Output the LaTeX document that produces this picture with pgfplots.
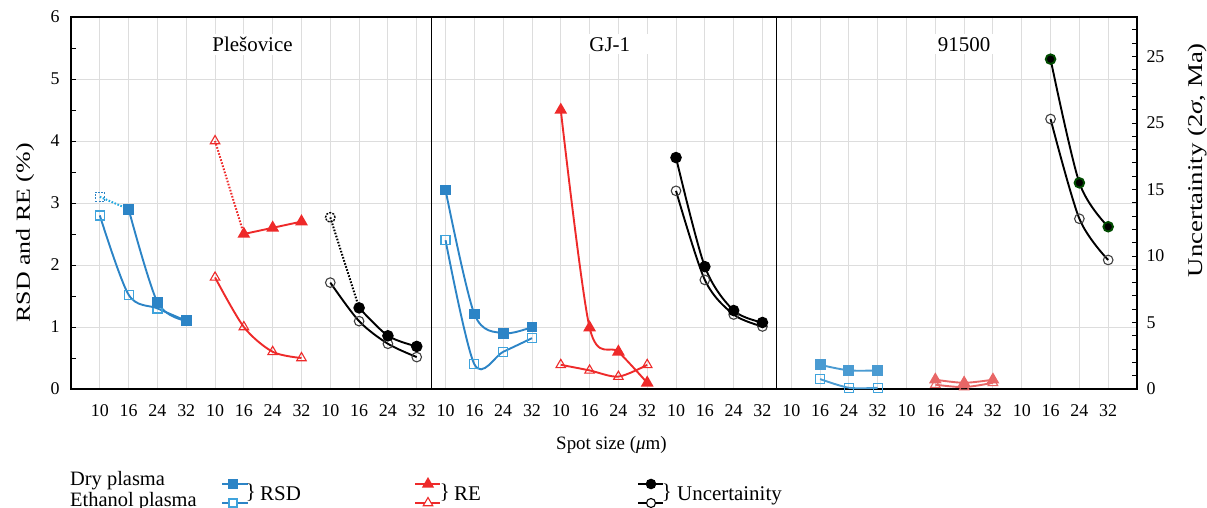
\documentclass[border=0pt]{standalone}
\usepackage{fontspec}
\setmainfont{Liberation Serif}
\usepackage{graphicx}
\usepackage{pgfplots}
\pgfplotsset{compat=1.18}

\definecolor{rsdblue}{HTML}{2C84C6}
\definecolor{rsdopen}{HTML}{3FA3DC}
\definecolor{rsdcyan}{HTML}{22A9E1}
\definecolor{rsdlight}{HTML}{4A9BD2}
\definecolor{rered}{HTML}{EE2A2A}
\definecolor{relight}{HTML}{E86666}
\definecolor{gridgray}{HTML}{DDDDDD}

\newcommand\fs[1]{\rmfamily\fontsize{#1}{#1}\selectfont}

\pgfplotsset{
  curve/.style={line width=1.9bp, smooth, tension=0.5},
  drysq/.style={curve, #1, mark=square*, mark size=4.5bp, mark options={solid, fill=#1, draw=#1}},
  ethsq/.style={curve, #1, mark=square, mark size=4.5bp, mark options={solid, fill=white, draw=rsdopen, line width=1.2bp}},
  drytri/.style={curve, #1, mark=triangle*, mark size=5.5bp, mark options={solid, fill=#1, draw=#1}},
  ethtri/.style={curve, #1, mark=triangle, mark size=5.5bp, mark options={solid, fill=white, draw=#1, line width=1.1bp}},
  drycirc/.style={curve, black, mark=*, mark size=4.8bp, mark options={solid, fill=black, draw=#1}},
  ethcirc/.style={curve, black, mark=o, mark size=4.8bp, mark options={solid, fill=white, draw=black!75, line width=1.1bp}},
  dots/.style={line width=2bp, dash pattern=on 1.6bp off 1.6bp, #1},
}

\begin{document}
\begin{tikzpicture}
\useasboundingbox (-71bp,-119bp) rectangle (1136bp,389bp);

\begin{axis}[
  at={(0,0)}, anchor=south west,
  scale only axis, width=1066bp, height=372bp,
  xmin=-1, xmax=36, ymin=0, ymax=6,
  xtick={0,...,35},
  xticklabels={10,16,24,32,10,16,24,32,10,16,24,32,10,16,24,32,10,16,24,32,10,16,24,32,10,16,24,32,10,16,24,32,10,16,24,32},
  ytick={0,...,6},
  minor ytick={0.5,1.5,...,5.5},
  xtick pos=bottom, ytick pos=left,
  tick align=inside,
  x tick style={draw=none},
  y tick style={black, line width=0.9bp},
  major tick length=5bp, minor tick length=5bp,
  grid=major,
  major grid style={gridgray, line width=0.9bp},
  axis line style={black, line width=1.1bp},
  ticklabel style={font=\fs{18}},
  /pgf/number format/assume math mode=true,
  xticklabel style={yshift=-12bp},
  yticklabel style={xshift=-8bp},
  xlabel={Spot size (\textit{μ}m)},
  xlabel style={font=\fs{19}, at={(axis description cs:0.507,-0.162)}, anchor=base},
  ylabel={\scalebox{1.3}[1]{RSD and RE (\%)}},
  ylabel style={font=\fs{20}, at={(axis description cs:-0.043,0.42)}, anchor=center, rotate=0},
]
% separators between reference materials
\draw[black, line width=1.2bp] (axis cs:11.5,0) -- (axis cs:11.5,6);
\draw[black, line width=1.2bp] (axis cs:23.5,0) -- (axis cs:23.5,6);

% ---- Plesovice
\addplot[ethsq=rsdblue] coordinates {(0,2.8)(1,1.52)(2,1.3)(3,1.1)};
\addplot[dots=rsdcyan] coordinates {(0,3.1)(1,2.9)};
\addplot[only marks, mark=square, mark size=4.5bp, mark options={draw=rsdblue, fill=white, line width=1.3bp, dash pattern=on 2bp off 1.2bp}] coordinates {(0,3.1)};
\addplot[drysq=rsdblue] coordinates {(1,2.9)(2,1.4)(3,1.1)};

\addplot[ethtri=rered] coordinates {(4,1.8)(5,1.0)(6,0.6)(7,0.5)};
\addplot[dots=rered] coordinates {(4,4.0)(5,2.5)};
\addplot[only marks, mark=triangle, mark size=5.5bp, mark options={draw=rered, fill=white, line width=1.1bp}] coordinates {(4,4.0)};
\addplot[drytri=rered] coordinates {(5,2.5)(6,2.6)(7,2.7)};

% ---- GJ-1
\addplot[ethsq=rsdblue] coordinates {(12,2.4)(13,0.4)(14,0.6)(15,0.82)};
\addplot[drysq=rsdblue] coordinates {(12,3.21)(13,1.21)(14,0.9)(15,1.0)};
\addplot[ethtri=rered] coordinates {(16,0.39)(17,0.3)(18,0.2)(19,0.39)};
\addplot[drytri=rered] coordinates {(16,4.5)(17,0.99)(18,0.6)(19,0.1)};

% ---- 91500
\addplot[ethsq=rsdlight] coordinates {(25,0.16)(26,0.02)(27,0.02)};
\addplot[drysq=rsdlight] coordinates {(25,0.39)(26,0.3)(27,0.3)};
\addplot[ethtri=relight] coordinates {(29,0.07)(30,0.03)(31,0.1)};
\addplot[drytri=relight] coordinates {(29,0.15)(30,0.1)(31,0.15)};

\node[fill=white, inner xsep=7bp, inner ysep=3bp, font=\fs{21}] at (axis cs:5.3,5.56) {Plešovice};
\node[fill=white, inner xsep=24bp, inner ysep=3bp, font=\fs{21}] at (axis cs:17.7,5.56) {GJ-1};
\node[fill=white, inner xsep=18bp, inner ysep=3bp, font=\fs{21}] at (axis cs:30.0,5.56) {91500};
\end{axis}

\begin{axis}[
  at={(0,0)}, anchor=south west,
  scale only axis, width=1066bp, height=372bp,
  xmin=-1, xmax=36, ymin=0, ymax=27.97,
  axis x line=none, axis y line*=right,
  ytick={0,5,10,15,20,25},
  yticklabels={0,5,10,15,25,25},
  minor ytick={1,...,27},
  tick align=inside,
  y tick style={black, line width=0.9bp},
  major tick length=5bp, minor tick length=5bp,
  axis line style={black, line width=1.1bp},
  ticklabel style={font=\fs{18}},
  yticklabel style={xshift=6bp},
  ylabel={\scalebox{1.28}[1]{Uncertainity (2\textit{σ}, Ma)}},
  ylabel style={font=\fs{21}, at={(axis description cs:1.057,0.615)}, anchor=center, rotate=0},
]
% ---- Plesovice
\addplot[ethcirc] coordinates {(8,8.0)(9,5.1)(10,3.4)(11,2.4)};
\addplot[dots=black] coordinates {(8,12.9)(9,6.1)};
\addplot[only marks, mark=o, mark size=4.8bp, mark options={draw=black, fill=white, line width=1.4bp, dash pattern=on 2bp off 1.2bp}] coordinates {(8,12.9)};
\addplot[drycirc=black] coordinates {(9,6.1)(10,4.0)(11,3.2)};
% ---- GJ-1
\addplot[ethcirc] coordinates {(20,14.9)(21,8.2)(22,5.6)(23,4.7)};
\addplot[drycirc=black] coordinates {(20,17.4)(21,9.2)(22,5.9)(23,5.0)};
% ---- 91500
\addplot[ethcirc] coordinates {(33,20.3)(34,12.8)(35,9.7)};
\addplot[drycirc=black!70!green] coordinates {(33,24.8)(34,15.5)(35,12.2)};
\end{axis}

% ---- legend
\node[anchor=base west, font=\fs{20.5}, inner sep=0pt] at (-1bp,-96bp) {Dry plasma};
\node[anchor=base west, font=\fs{20.5}, inner sep=0pt] at (-1bp,-117bp) {Ethanol plasma};

\begin{scope}[line width=1.5bp]
\draw[rsdblue] (151bp,-95bp) -- (177bp,-95bp);
\draw[rsdblue] (151bp,-114bp) -- (177bp,-114bp);
\filldraw[rsdblue] (158bp,-99bp) rectangle (166bp,-91bp);
\filldraw[draw=rsdopen, fill=white, line width=1.1bp] (158bp,-118bp) rectangle (166bp,-110bp);

\draw[rered] (344bp,-95bp) -- (369bp,-95bp);
\draw[rered] (344bp,-114bp) -- (369bp,-114bp);
\filldraw[rered] (357bp,-95bp) +(90:5.5bp) -- +(210:5.5bp) -- +(330:5.5bp) -- cycle;
\filldraw[draw=rered, fill=white, line width=1.1bp] (357bp,-114bp) +(90:5.5bp) -- +(210:5.5bp) -- +(330:5.5bp) -- cycle;

\draw[black] (567bp,-95bp) -- (592bp,-95bp);
\draw[black] (567bp,-114bp) -- (592bp,-114bp);
\filldraw[black] (580bp,-95bp) circle (4.5bp);
\filldraw[draw=black, fill=white, line width=1.1bp] (580bp,-114bp) circle (4.5bp);
\end{scope}

\node[font=\fs{21}, inner sep=0pt] at (180bp,-104bp) {\}};
\node[anchor=base west, font=\fs{21}, inner sep=0pt] at (189bp,-111bp) {RSD};
\node[font=\fs{21}, inner sep=0pt] at (374bp,-104bp) {\}};
\node[anchor=base west, font=\fs{21}, inner sep=0pt] at (383bp,-111bp) {RE};
\node[font=\fs{21}, inner sep=0pt] at (596bp,-104bp) {\}};
\node[anchor=base west, font=\fs{21}, inner sep=0pt] at (606bp,-111bp) {Uncertainity};
\end{tikzpicture}
\end{document}
